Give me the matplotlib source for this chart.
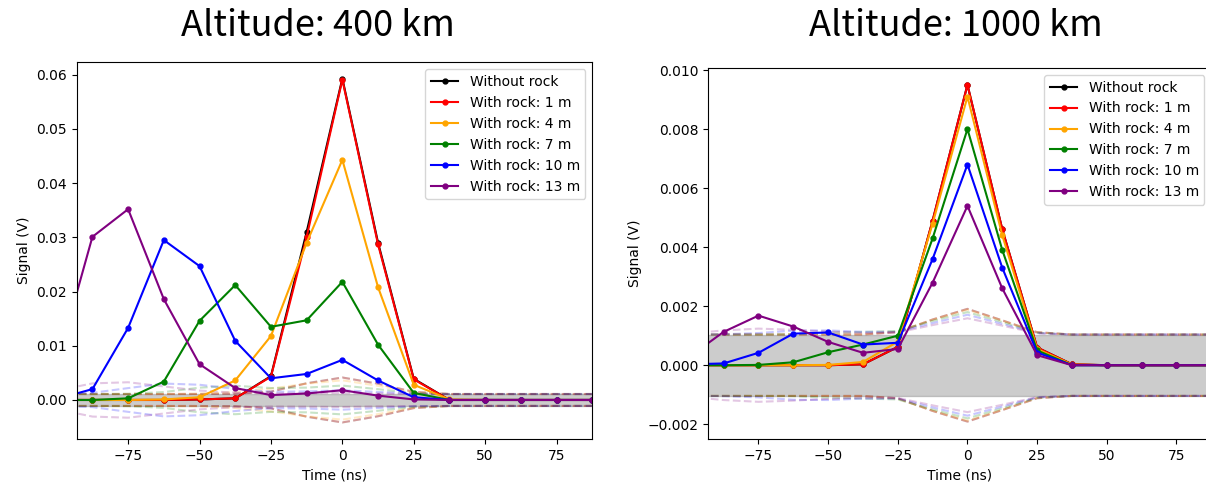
import numpy as np
import matplotlib
matplotlib.use("Agg")
import matplotlib.pyplot as plt

# sample times (ns)
time_ns = [-100, -87.5, -75, -62.5, -50, -37.5, -25, -12.5, 0, 12.5, 25, 37.5, 50, 62.5, 75, 87.5]

labels = ["Without rock", "With rock: 1 m", "With rock: 4 m", "With rock: 7 m",
          "With rock: 10 m", "With rock: 13 m"]
colors = ["black", "red", "orange", "green", "blue", "purple"]

# -------------------------------
# Altitude 400 km
# -------------------------------
sig400_none = [0, 0, 0, 0, 0.0001, 0.0003, 0.0044, 0.0310, 0.0593, 0.0290, 0.0039, 0, 0, 0, 0, 0]
sig400_1m = [0, 0, 0, 0, 0.0001, 0.0003, 0.0043, 0.0301, 0.0591, 0.0287, 0.0038, 0, 0, 0, 0, 0]
sig400_4m = [0, 0, 0, 0.0001, 0.0005, 0.0036, 0.0118, 0.0290, 0.0443, 0.0208, 0.0028, 0.0001, 0, 0, 0, 0]
sig400_7m = [0, 0, 0.0003, 0.0034, 0.0146, 0.0212, 0.0135, 0.0147, 0.0218, 0.0102, 0.0013, 0, 0, 0, 0, 0]
sig400_10m = [0.0002, 0.0020, 0.0133, 0.0295, 0.0247, 0.0109, 0.0040, 0.0048, 0.0074, 0.0036, 0.0005, 0, 0, 0, 0, 0]
sig400_13m = [0.0065, 0.0301, 0.0352, 0.0186, 0.0066, 0.0022, 0.0009, 0.0012, 0.0018, 0.0008, 0.0001, 0, 0, 0, 0, 0]

# uncertainty envelope half-widths (dashed lines)
env400_none = [0.00110, 0.00110, 0.00110, 0.00110, 0.00111, 0.00114, 0.00155, 0.00310, 0.00415, 0.00301, 0.00150, 0.00110, 0.00110, 0.00110, 0.00110, 0.00110]
env400_1m = [0.00110, 0.00110, 0.00110, 0.00110, 0.00111, 0.00114, 0.00154, 0.00306, 0.00414, 0.00299, 0.00150, 0.00110, 0.00110, 0.00110, 0.00110, 0.00110]
env400_4m = [0.00110, 0.00110, 0.00110, 0.00111, 0.00116, 0.00148, 0.00210, 0.00301, 0.00363, 0.00261, 0.00140, 0.00111, 0.00110, 0.00110, 0.00110, 0.00110]
env400_7m = [0.00110, 0.00110, 0.00114, 0.00146, 0.00227, 0.00263, 0.00220, 0.00228, 0.00266, 0.00199, 0.00125, 0.00110, 0.00110, 0.00110, 0.00110, 0.00110]
env400_10m = [0.00112, 0.00132, 0.00219, 0.00303, 0.00281, 0.00204, 0.00151, 0.00158, 0.00179, 0.00148, 0.00116, 0.00110, 0.00110, 0.00110, 0.00110, 0.00110]
env400_13m = [0.00172, 0.00306, 0.00327, 0.00250, 0.00173, 0.00134, 0.00121, 0.00124, 0.00130, 0.00119, 0.00111, 0.00110, 0.00110, 0.00110, 0.00110, 0.00110]
noise400 = 0.00110

# -------------------------------
# Altitude 1000 km
# -------------------------------
sig1000_none = [0, 0, 0, 0, 0, 0.00003, 0.00062, 0.0049, 0.0095, 0.0046, 0.0006, 0.00003, 0, 0, 0, 0]
sig1000_1m = [0, 0, 0, 0, 0, 0.00003, 0.00062, 0.0049, 0.0095, 0.0046, 0.0006, 0.00003, 0, 0, 0, 0]
sig1000_4m = [0, 0, 0, 0, 0.00001, 0.00011, 0.0008, 0.0048, 0.0091, 0.0044, 0.00055, 0.00002, 0, 0, 0, 0]
sig1000_7m = [0, 0, 0.00001, 0.0001, 0.00044, 0.0007, 0.0010, 0.0043, 0.0080, 0.0039, 0.0005, 0, 0, 0, 0, 0]
sig1000_10m = [0.00003, 0.00006, 0.00042, 0.00107, 0.00111, 0.0007, 0.00076, 0.0036, 0.0068, 0.0033, 0.00043, 0, 0, 0, 0, 0]
sig1000_13m = [0.00027, 0.00113, 0.00168, 0.00131, 0.00079, 0.00042, 0.00055, 0.0028, 0.0054, 0.0026, 0.00034, 0, 0, 0, 0, 0]

env1000_none = [0.00104, 0.00104, 0.00104, 0.00104, 0.00104, 0.00104, 0.00112, 0.00155, 0.00191, 0.00152, 0.00112, 0.00104, 0.00104, 0.00104, 0.00104, 0.00104]
env1000_1m = [0.00104, 0.00104, 0.00104, 0.00104, 0.00104, 0.00104, 0.00112, 0.00155, 0.00191, 0.00152, 0.00112, 0.00104, 0.00104, 0.00104, 0.00104, 0.00104]
env1000_4m = [0.00104, 0.00104, 0.00104, 0.00104, 0.00104, 0.00105, 0.00114, 0.00154, 0.00188, 0.00151, 0.00111, 0.00104, 0.00104, 0.00104, 0.00104, 0.00104]
env1000_7m = [0.00104, 0.00104, 0.00104, 0.00105, 0.00110, 0.00113, 0.00116, 0.00150, 0.00180, 0.00146, 0.00110, 0.00104, 0.00104, 0.00104, 0.00104, 0.00104]
env1000_10m = [0.00104, 0.00105, 0.00109, 0.00117, 0.00118, 0.00113, 0.00113, 0.00143, 0.00171, 0.00140, 0.00109, 0.00104, 0.00104, 0.00104, 0.00104, 0.00104]
env1000_13m = [0.00107, 0.00118, 0.00124, 0.00120, 0.00114, 0.00109, 0.00111, 0.00136, 0.00159, 0.00134, 0.00108, 0.00104, 0.00104, 0.00104, 0.00104, 0.00104]
noise1000 = 0.00104

panels = [
    {
        "title": "Altitude: 400 km",
        "signals": [sig400_none, sig400_1m, sig400_4m, sig400_7m, sig400_10m, sig400_13m],
        "envs": [env400_none, env400_1m, env400_4m, env400_7m, env400_10m, env400_13m],
        "noise": noise400,
        "rect": [76.7 / 1206, 45 / 484, 515.6 / 1206, 376.7 / 484],
        "ylim": (-0.0072, 0.0623),
        "title_x": 318 / 1206,
    },
    {
        "title": "Altitude: 1000 km",
        "signals": [sig1000_none, sig1000_1m, sig1000_4m, sig1000_7m, sig1000_10m, sig1000_13m],
        "envs": [env1000_none, env1000_1m, env1000_4m, env1000_7m, env1000_10m, env1000_13m],
        "noise": noise1000,
        "rect": [708.3 / 1206, 45 / 484, 503 / 1206, 371 / 484],
        "ylim": (-0.0025, 0.01007),
        "title_x": 956 / 1206,
    },
]

fig = plt.figure(figsize=(12.06, 4.84), dpi=100)

t = np.array(time_ns)
for p in panels:
    ax = fig.add_axes(p["rect"])

    # dashed envelopes
    for env, c in zip(p["envs"], colors):
        env = np.array(env)
        ax.plot(t, env, linestyle="--", color=c, alpha=0.22, linewidth=1.5)
        ax.plot(t, -env, linestyle="--", color=c, alpha=0.22, linewidth=1.5)

    ax.fill_between([-200, 200], -p["noise"], p["noise"], color="gray", alpha=0.4)

    # Signals
    for sig, c, lab in zip(p["signals"], colors, labels):
        ax.plot(t, sig, "-o", color=c, label=lab, markersize=3.5, linewidth=1.5)

    ax.set_xlim(-93, 87.5)
    ax.set_ylim(*p["ylim"])
    ax.set_xticks([-75, -50, -25, 0, 25, 50, 75])
    ax.set_xlabel("Time (ns)")
    ax.set_ylabel("Signal (V)")
    ax.legend(loc="upper right")

    fig.text(p["title_x"], 1 - 26 / 484, p["title"], ha="center", va="center",
             fontsize=26, family="Noto Sans CJK JP")

fig.savefig("out.png", dpi=100)
